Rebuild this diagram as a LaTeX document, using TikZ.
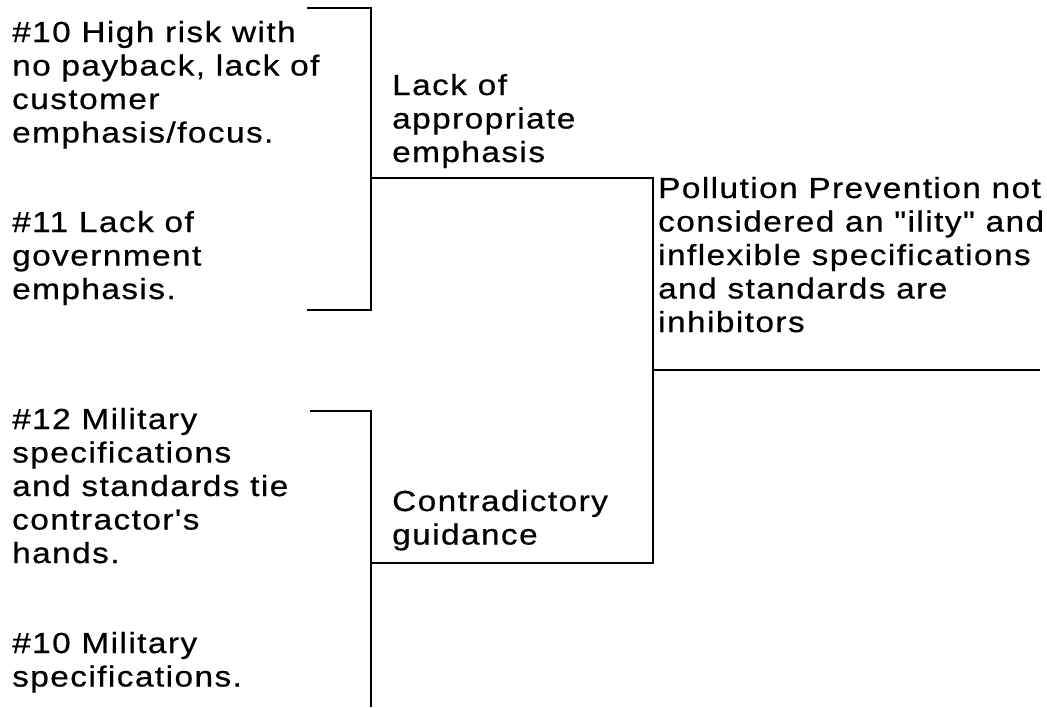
\documentclass[tikz,border=0pt]{standalone}
\usepackage{fontspec}
\newfontfamily\diagfont{Liberation Sans}[FakeStretch=1.15,LetterSpace=5,FakeBold=0.6]
\newcommand{\txtblock}[1]{\begin{tabular}[t]{@{}l@{}}#1\end{tabular}}
\begin{document}
\begin{tikzpicture}[x=1pt,y=-1pt,
  lbl/.style={anchor=base west, inner sep=0pt, font=\diagfont\fontsize{29}{33.5}\selectfont},
  wire/.style={line width=2.4pt, line join=miter}]
\useasboundingbox (0,0) rectangle (1047,707);
\fill[white] (0,0) rectangle (1047,707);
% texts
\node[lbl] (a10) at (12,42) {\txtblock{\#10 High risk with\\no payback, lack of\\customer\\emphasis/focus.}};
\node[lbl] (a11) at (12,232) {\txtblock{\#11 Lack of\\government\\emphasis.}};
\node[lbl] (b12) at (12,429) {\txtblock{\#12 Military\\specifications\\and standards tie\\contractor's\\hands.}};
\node[lbl] (b10) at (12,653) {\txtblock{\#10 Military\\specifications.}};
\node[lbl] (lack) at (392,95) {\txtblock{Lack of\\appropriate\\emphasis}};
\node[lbl] (contra) at (392,511) {\txtblock{Contradictory\\guidance}};
\node[lbl] (poll) at (658,198) {\txtblock{Pollution Prevention not\\considered an "ility" and\\inflexible specifications\\and standards are\\inhibitors}};
% upper bracket
\coordinate (ua) at (307,8);
\coordinate (ub) at (371,8);
\coordinate (uc) at (371,310);
\coordinate (ud) at (307,310);
\draw[wire] (ua) -- (ub) -- (uc) -- (ud);
% lower bracket
\coordinate (la) at (310,411);
\coordinate (lb) at (371,411);
\coordinate (lc) at (371,707);
\draw[wire] (la) -- (lb) -- (lc);
% second level bracket
\coordinate (um) at (371,178);
\coordinate (rj) at (653,178);
\coordinate (rk) at (653,563);
\coordinate (lm) at (371,563);
\draw[wire] (um) -- (rj) -- (rk) -- (lm);
% output line
\coordinate (oa) at (653,370);
\coordinate (ob) at (1040,370);
\draw[wire] (oa) -- (ob);
\end{tikzpicture}
\end{document}
